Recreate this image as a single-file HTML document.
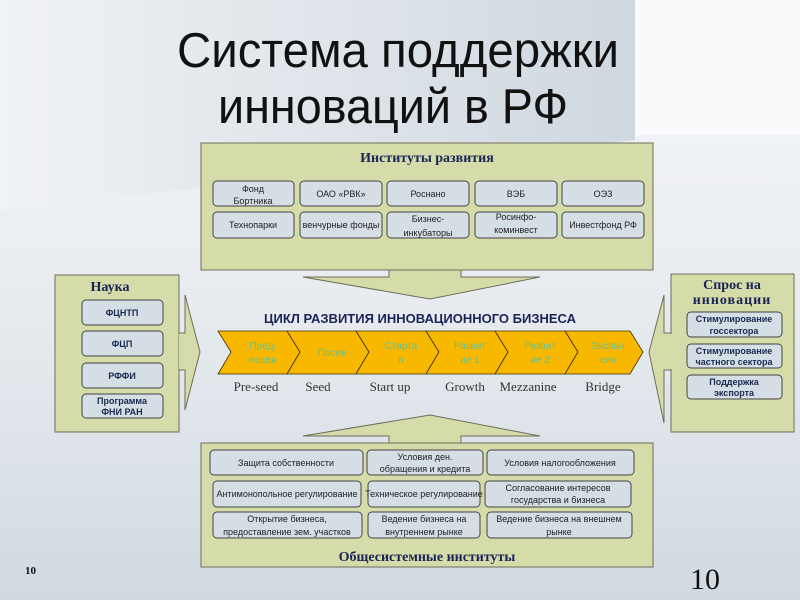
<!DOCTYPE html>
<html><head><meta charset="utf-8"><style>
html,body{margin:0;padding:0;width:800px;height:600px;overflow:hidden}
svg{display:block}
.b{font-family:"Liberation Sans","DejaVu Sans",sans-serif;fill:#222;font-size:9px;text-anchor:middle}
.bb{font-family:"Liberation Sans","DejaVu Sans",sans-serif;fill:#1a2a50;font-size:9px;font-weight:bold;text-anchor:middle}
.h{font-family:"Liberation Serif",serif;fill:#1a2456;font-weight:bold;font-size:14px;text-anchor:middle}
.ch{font-family:"Liberation Sans",sans-serif;fill:#5fc29a;font-size:10px;text-anchor:middle}
.lab{font-family:"Liberation Serif",serif;fill:#333;font-size:13px;text-anchor:middle}
</style></head><body>
<svg width="800" height="600" viewBox="0 0 800 600" xmlns="http://www.w3.org/2000/svg">
<defs>
<linearGradient id="bg" x1="0" y1="0" x2="0" y2="1"><stop offset="0" stop-color="#f6f7f9"/><stop offset="0.5" stop-color="#e8ecf0"/><stop offset="1" stop-color="#d1d9e1"/></linearGradient>
<linearGradient id="tp" x1="0" y1="0" x2="1" y2="0"><stop offset="0" stop-color="#f0f2f5"/><stop offset="1" stop-color="#cfd8e0"/></linearGradient>
</defs>
<rect width="800" height="600" fill="url(#bg)"/>
<rect x="635" y="0" width="165" height="135" fill="#f8f9fa"/>
<polygon points="0,0 635,0 635,140 0,210" fill="url(#tp)"/>
<g font-family="Liberation Sans,DejaVu Sans,sans-serif" font-size="49" fill="#111" text-anchor="middle">
<text x="398" y="67" textLength="442" lengthAdjust="spacingAndGlyphs">Система поддержки</text>
<text x="393" y="123" textLength="350" lengthAdjust="spacingAndGlyphs">инноваций в РФ</text>
</g>

<rect x="201" y="143" width="452" height="127" fill="#d5dca9" stroke="#6e6e5a" stroke-width="1"/>
<text class="h" x="427" y="162">Институты развития</text>
<g fill="#d5dde5" stroke="#444" stroke-width="1">
<rect x="213" y="181" width="81" height="25" rx="4"/><rect x="300" y="181" width="82" height="25" rx="4"/><rect x="387" y="181" width="82" height="25" rx="4"/><rect x="475" y="181" width="82" height="25" rx="4"/><rect x="562" y="181" width="82" height="25" rx="4"/>
<rect x="213" y="212" width="81" height="26" rx="4"/><rect x="300" y="212" width="82" height="26" rx="4"/><rect x="387" y="212" width="82" height="26" rx="4"/><rect x="475" y="212" width="82" height="26" rx="4"/><rect x="562" y="212" width="82" height="26" rx="4"/>
</g>
<text class="b" x="253" y="192">Фонд</text><text class="b" x="253" y="204">Бортника</text>
<text class="b" x="341" y="197">ОАО «РВК»</text>
<text class="b" x="428" y="197">Роснано</text>
<text class="b" x="516" y="197">ВЭБ</text>
<text class="b" x="603" y="197">ОЭЗ</text>
<text class="b" x="253" y="228">Технопарки</text>
<text class="b" x="341" y="228">венчурные фонды</text>
<text class="b" x="428" y="222">Бизнес-</text><text class="b" x="428" y="236">инкубаторы</text>
<text class="b" x="516" y="220">Росинфо-</text><text class="b" x="516" y="233">коминвест</text>
<text class="b" x="603" y="228">Инвестфонд РФ</text>
<polygon points="389,270 461,270 461,277 540,277 430,299 303,277 389,277" fill="#d5dca9" stroke="#6e6e5a"/>

<polygon points="178,333 185,333 185,295 200,352 185,410 185,370 178,370" fill="#d5dca9" stroke="#6e6e5a"/>
<rect x="55" y="275" width="124" height="157" fill="#d5dca9" stroke="#6e6e5a"/>
<rect x="179" y="334" width="7" height="35" fill="#d5dca9"/>
<text class="h" x="110" y="291">Наука</text>
<g fill="#d5dde5" stroke="#444">
<rect x="82" y="300" width="81" height="25" rx="4"/><rect x="82" y="331" width="81" height="25" rx="4"/><rect x="82" y="363" width="81" height="25" rx="4"/><rect x="82" y="394" width="81" height="24" rx="4"/>
</g>
<text class="bb" x="122" y="316">ФЦНТП</text>
<text class="bb" x="122" y="347">ФЦП</text>
<text class="bb" x="122" y="379">РФФИ</text>
<text class="bb" x="122" y="404">Программа</text><text class="bb" x="122" y="415">ФНИ РАН</text>

<polygon points="672,333 664,333 664,295 649,352 664,423 664,370 672,370" fill="#d5dca9" stroke="#6e6e5a"/>
<rect x="671" y="274" width="123" height="158" fill="#d5dca9" stroke="#6e6e5a"/>
<rect x="664" y="334" width="8" height="35" fill="#d5dca9"/>
<text class="h" x="732" y="289">Спрос на</text>
<text class="h" x="732" y="304" letter-spacing="1">инновации</text>
<g fill="#d5dde5" stroke="#444">
<rect x="687" y="312" width="95" height="25" rx="4"/><rect x="687" y="344" width="95" height="24" rx="4"/><rect x="687" y="375" width="95" height="24" rx="4"/>
</g>
<text class="bb" x="734" y="322">Стимулирование</text><text class="bb" x="734" y="334">госсектора</text>
<text class="bb" x="734" y="354">Стимулирование</text><text class="bb" x="734" y="365">частного сектора</text>
<text class="bb" x="734" y="385">Поддержка</text><text class="bb" x="734" y="396">экспорта</text>

<text x="420" y="323" font-family="Liberation Sans,sans-serif" font-weight="bold" font-size="13" fill="#1a2456" text-anchor="middle">ЦИКЛ РАЗВИТИЯ ИННОВАЦИОННОГО БИЗНЕСА</text>
<g fill="#f9b800" stroke="#3a3000" stroke-width="0.8">
<polygon points="218,331 287,331 300,352 287,374 218,374 231,352"/>
<polygon points="287,331 356,331 369,352 356,374 287,374 300,352"/>
<polygon points="356,331 426,331 439,352 426,374 356,374 369,352"/>
<polygon points="426,331 495,331 508,352 495,374 426,374 439,352"/>
<polygon points="495,331 565,331 578,352 565,374 495,374 508,352"/>
<polygon points="565,331 630,331 643,352 630,374 565,374 578,352"/>
</g>
<text class="ch" x="263" y="349">Пред-</text><text class="ch" x="263" y="363">посев</text>
<text class="ch" x="332" y="356">Посев</text>
<text class="ch" x="401" y="349">Старта</text><text class="ch" x="401" y="363">п</text>
<text class="ch" x="470" y="349">Развит</text><text class="ch" x="470" y="363">ие 1</text>
<text class="ch" x="540" y="349">Развит</text><text class="ch" x="540" y="363">ие 2</text>
<text class="ch" x="608" y="349">Экспан</text><text class="ch" x="608" y="363">сия</text>
<text class="lab" x="256" y="391">Pre-seed</text>
<text class="lab" x="318" y="391">Seed</text>
<text class="lab" x="390" y="391">Start up</text>
<text class="lab" x="465" y="391">Growth</text>
<text class="lab" x="528" y="391">Mezzanine</text>
<text class="lab" x="603" y="391">Bridge</text>

<polygon points="430,415 540,436 461,436 461,444 389,444 389,436 303,436" fill="#d5dca9" stroke="#6e6e5a"/>
<rect x="201" y="443" width="452" height="124" fill="#d5dca9" stroke="#6e6e5a"/>
<g fill="#d5dde5" stroke="#444">
<rect x="210" y="450" width="153" height="25" rx="4"/><rect x="367" y="450" width="116" height="25" rx="4"/><rect x="487" y="450" width="147" height="25" rx="4"/>
<rect x="213" y="481" width="148" height="26" rx="4"/><rect x="368" y="481" width="112" height="26" rx="4"/><rect x="485" y="481" width="146" height="26" rx="4"/>
<rect x="213" y="512" width="149" height="26" rx="4"/><rect x="368" y="512" width="112" height="26" rx="4"/><rect x="487" y="512" width="145" height="26" rx="4"/>
</g>
<text class="b" x="286" y="466">Защита собственности</text>
<text class="b" x="425" y="460">Условия ден.</text><text class="b" x="425" y="472">обращения и кредита</text>
<text class="b" x="560" y="466">Условия налогообложения</text>
<text class="b" x="287" y="497">Антимонопольное регулирование</text>
<text class="b" x="424" y="497">Техническое регулирование</text>
<text class="b" x="558" y="491">Согласование интересов</text><text class="b" x="558" y="503">государства и бизнеса</text>
<text class="b" x="287" y="522">Открытие бизнеса,</text><text class="b" x="287" y="535">предоставление зем. участков</text>
<text class="b" x="424" y="522">Ведение бизнеса на</text><text class="b" x="424" y="535">внутреннем рынке</text>
<text class="b" x="559" y="522">Ведение бизнеса на внешнем</text><text class="b" x="559" y="535">рынке</text>
<text class="h" x="427" y="561">Общесистемные институты</text>

<text x="25" y="574" font-family="Liberation Serif,serif" font-weight="bold" font-size="11" fill="#111">10</text>
<text x="690" y="589" font-family="Liberation Serif,serif" font-size="30" fill="#111">10</text>
</svg>
</body></html>
